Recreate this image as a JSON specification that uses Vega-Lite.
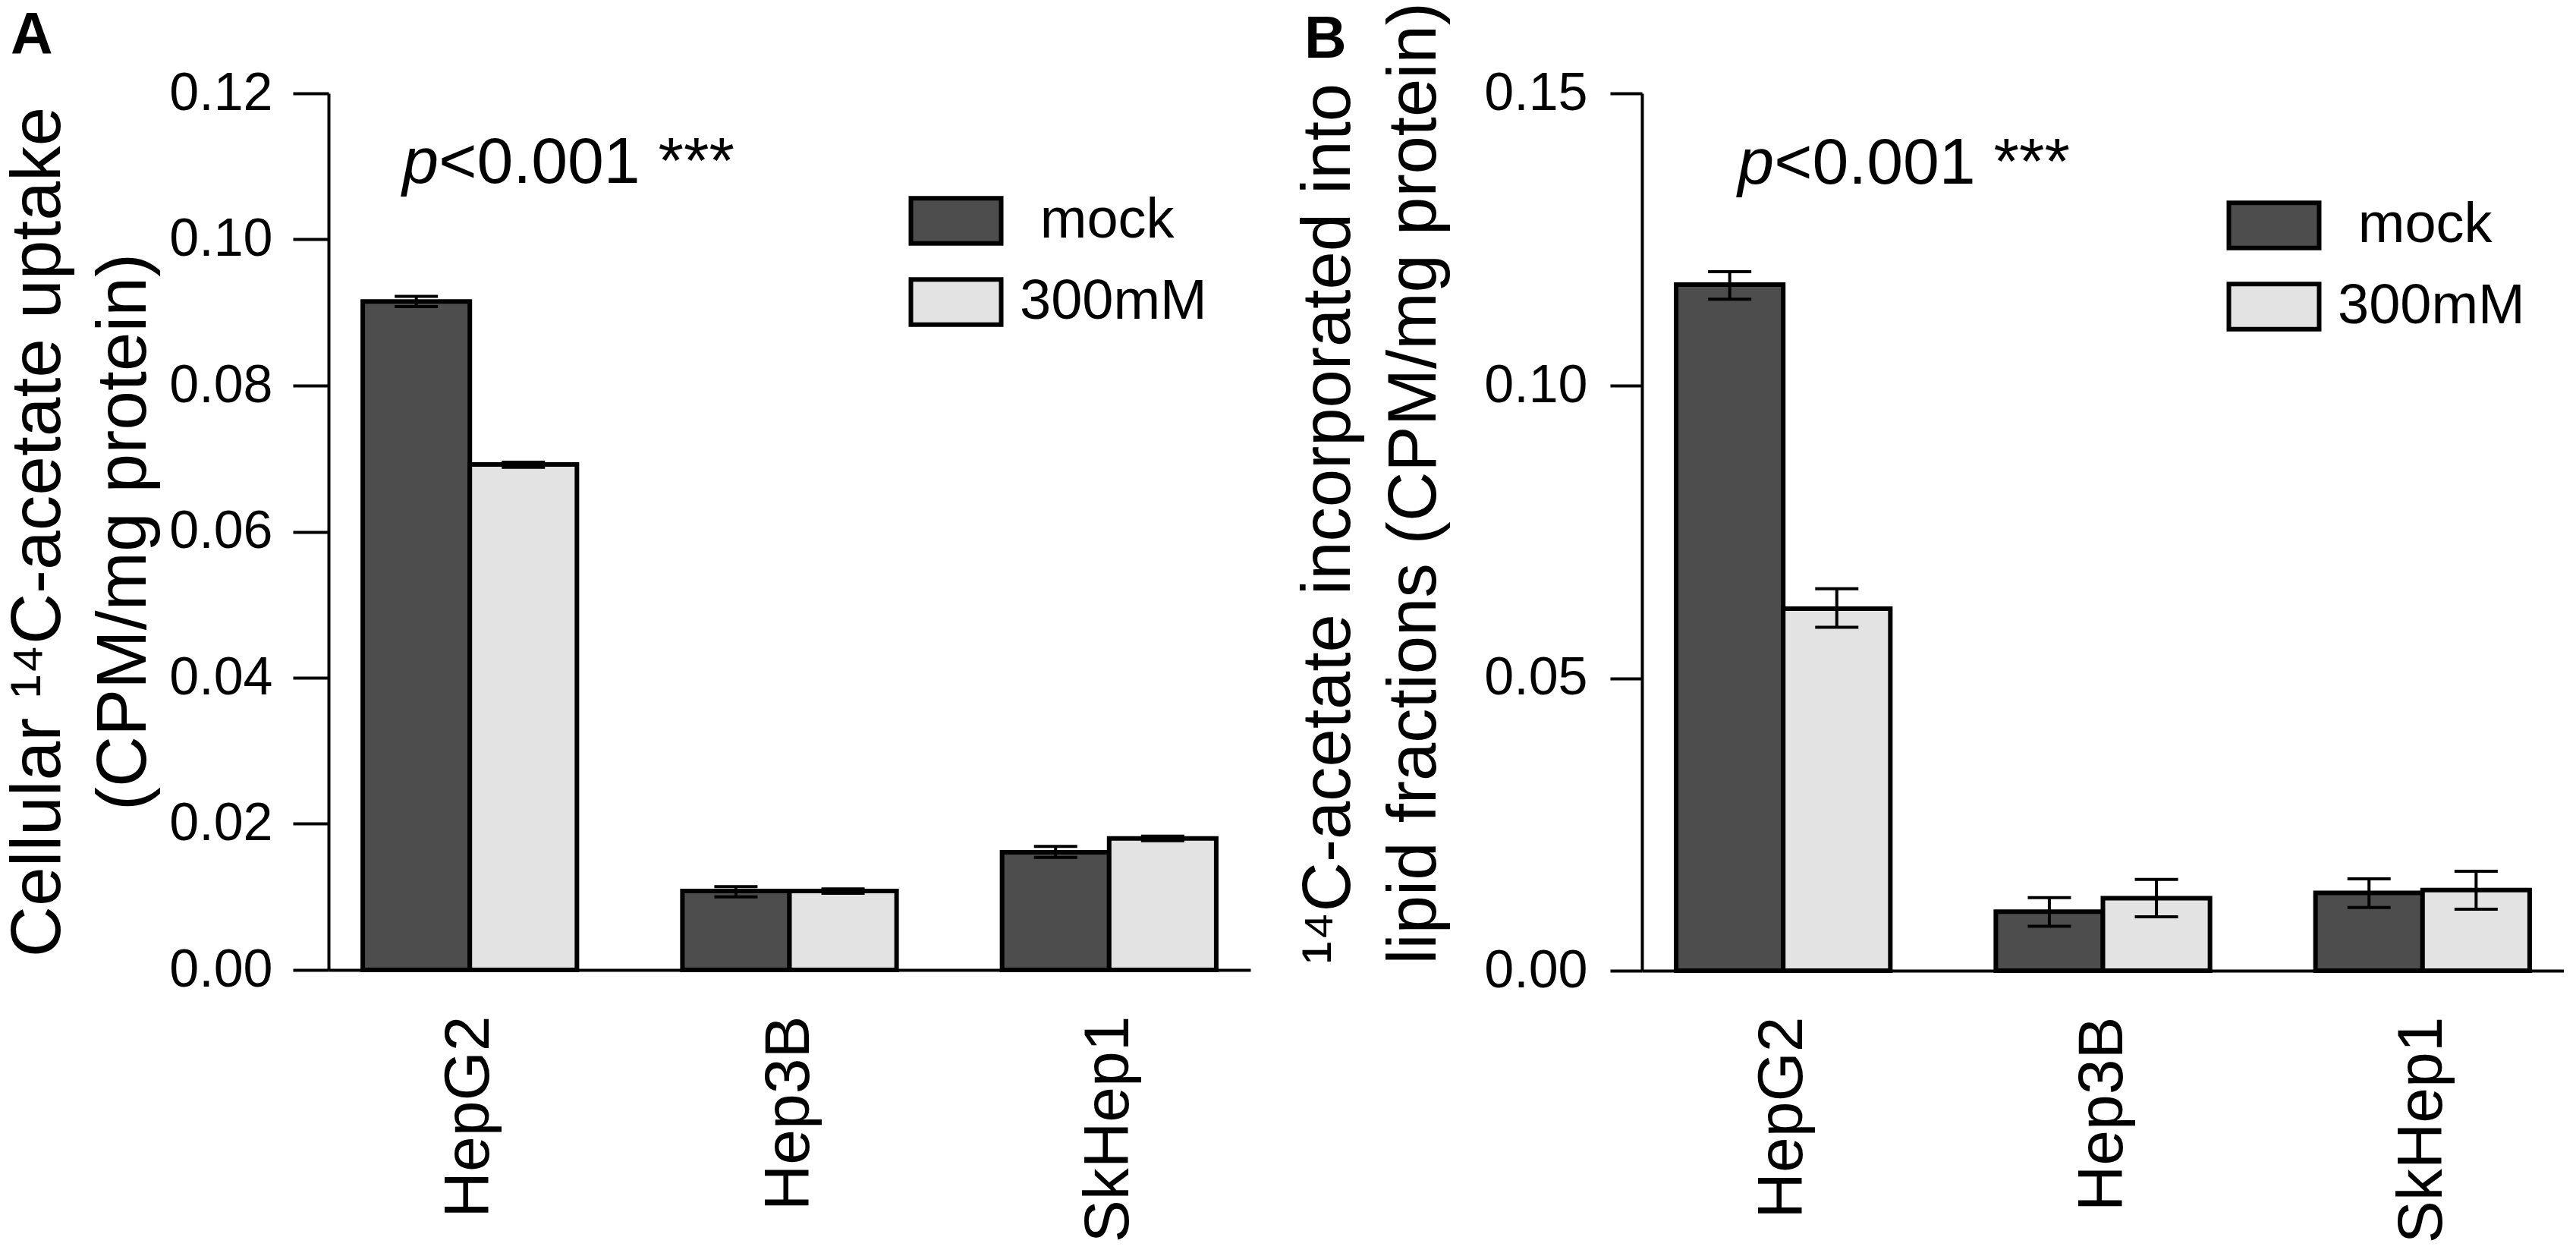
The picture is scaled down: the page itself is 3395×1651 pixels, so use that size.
{
  "$schema": "https://vega.github.io/schema/vega-lite/v6.json",
  "background": "white",
  "padding": {"left": 3, "top": 2, "right": 0, "bottom": 0},
  "spacing": 58,
  "resolve": {"scale": {"fill": "independent"}, "legend": {"fill": "independent"}},
  "config": {
    "font": "Liberation Sans",
    "view": {"stroke": null},
    "axis": {
      "grid": false,
      "domainColor": "black",
      "domainWidth": 4,
      "tickColor": "black",
      "tickWidth": 4,
      "labelColor": "black",
      "titleColor": "black",
      "labelFont": "Liberation Sans",
      "titleFont": "Liberation Sans",
      "titleFontWeight": "normal",
      "labelLimit": 0,
      "titleLimit": 0
    },
    "legend": {"labelLimit": 0}
  },
  "datasets": {
    "uptake": [
      {"cell": "HepG2", "treatment": "mock", "value": 0.0915, "lo": 0.0908, "hi": 0.0922},
      {"cell": "HepG2", "treatment": "300mM", "value": 0.0692, "lo": 0.0688, "hi": 0.0695},
      {"cell": "Hep3B", "treatment": "mock", "value": 0.0108, "lo": 0.0100, "hi": 0.0114},
      {"cell": "Hep3B", "treatment": "300mM", "value": 0.0108, "lo": 0.0105, "hi": 0.0111},
      {"cell": "SkHep1", "treatment": "mock", "value": 0.0161, "lo": 0.0154, "hi": 0.0169},
      {"cell": "SkHep1", "treatment": "300mM", "value": 0.0180, "lo": 0.0177, "hi": 0.0183}
    ],
    "lipid": [
      {"cell": "HepG2", "treatment": "mock", "value": 0.1173, "lo": 0.1148, "hi": 0.1195},
      {"cell": "HepG2", "treatment": "300mM", "value": 0.0619, "lo": 0.0587, "hi": 0.0653},
      {"cell": "Hep3B", "treatment": "mock", "value": 0.0101, "lo": 0.0076, "hi": 0.0125},
      {"cell": "Hep3B", "treatment": "300mM", "value": 0.0124, "lo": 0.0092, "hi": 0.0156},
      {"cell": "SkHep1", "treatment": "mock", "value": 0.0133, "lo": 0.0108, "hi": 0.0157},
      {"cell": "SkHep1", "treatment": "300mM", "value": 0.0138, "lo": 0.0105, "hi": 0.0170}
    ],
    "notes": [
      {"panel": "A", "cell": "HepG2", "value": 0.1077, "p": "p", "rest": "<0.001 ***"},
      {"panel": "B", "cell": "HepG2", "value": 0.1346, "p": "p", "rest": "<0.001 ***"}
    ]
  },
  "hconcat": [
    {
      "width": 1215,
      "height": 1155,
      "title": {"text": "A", "anchor": "start", "frame": "bounds", "fontSize": 77, "fontWeight": "bold", "color": "black", "baseline": "alphabetic", "offset": -68, "dy": -8, "dx": 10},
      "data": {"name": "uptake"},
      "encoding": {
        "x": {
          "field": "cell", "type": "nominal", "sort": ["HepG2", "Hep3B", "SkHep1"],
          "scale": {"paddingInner": 0.33, "paddingOuter": 0.107},
          "axis": {"title": null, "labelAngle": -90, "labelFontSize": 84, "labelPadding": 60, "ticks": false}
        }
      },
      "layer": [
        {
          "mark": {"type": "bar", "stroke": "black", "strokeWidth": 6},
          "encoding": {
            "xOffset": {"field": "treatment", "sort": ["mock", "300mM"]},
            "y": {
              "field": "value", "type": "quantitative",
              "scale": {"domain": [0, 0.12], "nice": false},
              "axis": {
                "values": [0, 0.02, 0.04, 0.06, 0.08, 0.1, 0.12], "format": ".2f",
                "tickSize": 47, "labelFontSize": 70, "labelPadding": 27,
                "title": ["Cellular ¹⁴C-acetate uptake", "(CPM/mg protein)"],
                "titleFontSize": 93, "titleLineHeight": 113, "titlePadding": 22
              }
            },
            "fill": {
              "field": "treatment", "type": "nominal",
              "scale": {"domain": ["mock", "300mM"], "range": ["#4d4d4d", "#e3e3e3"]},
              "legend": {
                "orient": "none", "legendX": 790, "legendY": 131, "title": null,
                "symbolType": "M-2,-1H2V1H-2Z", "symbolSize": 3540,
                "symbolStrokeColor": "black", "symbolStrokeWidth": 6, "symbolOpacity": 1,
                "labelFontSize": 74, "labelColor": "black", "labelOffset": 47, "rowPadding": 23,
                "labelExpr": "datum.value == 'mock' ? '\u200d\u00a0\u200amock' : datum.label"
              }
            }
          }
        },
        {
          "mark": {"type": "rule", "strokeWidth": 4, "color": "black"},
          "encoding": {
            "xOffset": {"field": "treatment", "sort": ["mock", "300mM"]},
            "y": {"field": "lo", "type": "quantitative"},
            "y2": {"field": "hi"}
          }
        },
        {
          "mark": {"type": "tick", "size": 57, "thickness": 4, "color": "black", "opacity": 1},
          "encoding": {
            "xOffset": {"field": "treatment", "sort": ["mock", "300mM"]},
            "y": {"field": "lo", "type": "quantitative"}
          }
        },
        {
          "mark": {"type": "tick", "size": 57, "thickness": 4, "color": "black", "opacity": 1},
          "encoding": {
            "xOffset": {"field": "treatment", "sort": ["mock", "300mM"]},
            "y": {"field": "hi", "type": "quantitative"}
          }
        },
        {
          "data": {"name": "notes"},
          "transform": [{"filter": "datum.panel == 'A'"}],
          "mark": {"type": "text", "align": "right", "baseline": "alphabetic", "fontSize": 86, "fontStyle": "italic", "color": "black", "dx": -41},
          "encoding": {
            "y": {"field": "value", "type": "quantitative"},
            "text": {"field": "p"}
          }
        },
        {
          "data": {"name": "notes"},
          "transform": [{"filter": "datum.panel == 'A'"}],
          "mark": {"type": "text", "align": "left", "baseline": "alphabetic", "fontSize": 86, "color": "black", "dx": -41},
          "encoding": {
            "y": {"field": "value", "type": "quantitative"},
            "text": {"field": "rest"}
          }
        }
      ]
    },
    {
      "width": 1215,
      "height": 1156,
      "title": {"text": "B", "anchor": "start", "frame": "bounds", "fontSize": 77, "fontWeight": "bold", "color": "black", "baseline": "alphabetic", "offset": -97, "dy": 53, "dx": 13},
      "data": {"name": "lipid"},
      "encoding": {
        "x": {
          "field": "cell", "type": "nominal", "sort": ["HepG2", "Hep3B", "SkHep1"],
          "scale": {"paddingInner": 0.33, "paddingOuter": 0.107},
          "axis": {"title": null, "labelAngle": -90, "labelFontSize": 84, "labelPadding": 60, "ticks": false}
        }
      },
      "layer": [
        {
          "mark": {"type": "bar", "stroke": "black", "strokeWidth": 6},
          "encoding": {
            "xOffset": {"field": "treatment", "sort": ["mock", "300mM"]},
            "y": {
              "field": "value", "type": "quantitative",
              "scale": {"domain": [0, 0.15], "nice": false},
              "axis": {
                "values": [0, 0.05, 0.1, 0.15], "format": ".2f",
                "tickSize": 42, "labelFontSize": 70, "labelPadding": 30,
                "title": ["¹⁴C-acetate incorporated into", "lipid fractions (CPM/mg protein)"],
                "titleFontSize": 90.5, "titleLineHeight": 113, "titlePadding": 54,
                "titleAlign": "left", "titleY": 1147
              }
            },
            "fill": {
              "field": "treatment", "type": "nominal",
              "scale": {"domain": ["mock", "300mM"], "range": ["#4d4d4d", "#e3e3e3"]},
              "legend": {
                "orient": "none", "legendX": 796, "legendY": 137, "title": null,
                "symbolType": "M-2,-1H2V1H-2Z", "symbolSize": 3540,
                "symbolStrokeColor": "black", "symbolStrokeWidth": 6, "symbolOpacity": 1,
                "labelFontSize": 74, "labelColor": "black", "labelOffset": 47, "rowPadding": 23,
                "labelExpr": "datum.value == 'mock' ? '\u200d\u00a0\u200amock' : datum.label"
              }
            }
          }
        },
        {
          "mark": {"type": "rule", "strokeWidth": 4, "color": "black"},
          "encoding": {
            "xOffset": {"field": "treatment", "sort": ["mock", "300mM"]},
            "y": {"field": "lo", "type": "quantitative"},
            "y2": {"field": "hi"}
          }
        },
        {
          "mark": {"type": "tick", "size": 57, "thickness": 4, "color": "black", "opacity": 1},
          "encoding": {
            "xOffset": {"field": "treatment", "sort": ["mock", "300mM"]},
            "y": {"field": "lo", "type": "quantitative"}
          }
        },
        {
          "mark": {"type": "tick", "size": 57, "thickness": 4, "color": "black", "opacity": 1},
          "encoding": {
            "xOffset": {"field": "treatment", "sort": ["mock", "300mM"]},
            "y": {"field": "hi", "type": "quantitative"}
          }
        },
        {
          "data": {"name": "notes"},
          "transform": [{"filter": "datum.panel == 'B'"}],
          "mark": {"type": "text", "align": "right", "baseline": "alphabetic", "fontSize": 86, "fontStyle": "italic", "color": "black", "dx": -12},
          "encoding": {
            "y": {"field": "value", "type": "quantitative"},
            "text": {"field": "p"}
          }
        },
        {
          "data": {"name": "notes"},
          "transform": [{"filter": "datum.panel == 'B'"}],
          "mark": {"type": "text", "align": "left", "baseline": "alphabetic", "fontSize": 86, "color": "black", "dx": -12},
          "encoding": {
            "y": {"field": "value", "type": "quantitative"},
            "text": {"field": "rest"}
          }
        }
      ]
    }
  ]
}
